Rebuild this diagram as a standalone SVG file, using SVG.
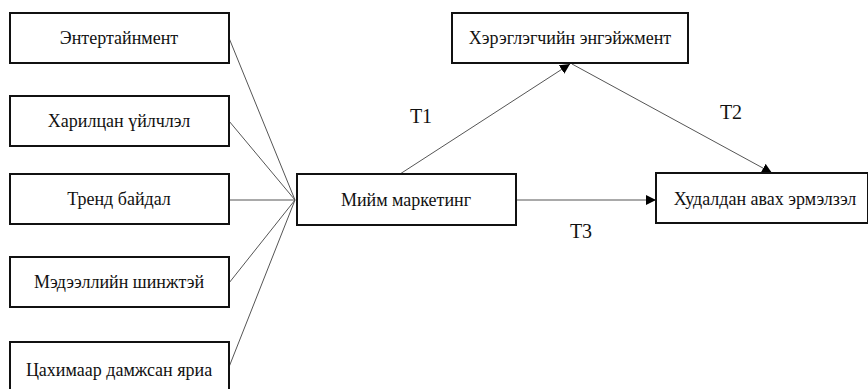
<svg xmlns="http://www.w3.org/2000/svg" width="868" height="389" viewBox="0 0 868 389">
<defs>
<style>
.box{fill:#fff;stroke:#111;stroke-width:2}
.t{font-size:18px;fill:#111;text-anchor:middle}
.lbl{font-size:20px;fill:#111;text-anchor:middle}
.ln{stroke:#555;stroke-width:1;fill:none}
</style>
<marker id="ah" viewBox="0 0 10 10" refX="10" refY="5" markerWidth="10" markerHeight="10" markerUnits="userSpaceOnUse" orient="auto">
<path d="M0,0 L10,5 L0,10 Z" fill="#000"/>
</marker>
</defs>
<rect width="868" height="389" fill="#fff"/>
<g font-family="'Liberation Serif', 'DejaVu Serif', serif">
<g id="connectors">
<line class="ln" x1="229" y1="38" x2="295" y2="200"/>
<line class="ln" x1="229" y1="121" x2="295" y2="200"/>
<line class="ln" x1="229" y1="200" x2="295" y2="200"/>
<line class="ln" x1="229" y1="283" x2="295" y2="200"/>
<line class="ln" x1="229" y1="367" x2="295" y2="200"/>
<line class="ln" x1="400" y1="174" x2="570" y2="64" marker-end="url(#ah)"/>
<line class="ln" x1="572" y1="64" x2="772" y2="173" marker-end="url(#ah)"/>
<line class="ln" x1="516" y1="200" x2="656" y2="200" marker-end="url(#ah)"/>
<text class="lbl" x="421" y="123">T1</text>
<text class="lbl" x="731" y="119">T2</text>
<text class="lbl" x="581" y="238">T3</text>
</g>
<g id="n1"><rect class="box" x="10" y="13" width="219" height="50"/><text class="t" x="119" y="44">Энтертайнмент</text></g>
<g id="n2"><rect class="box" x="10" y="96" width="219" height="50"/><text class="t" x="119" y="127">Харилцан үйлчлэл</text></g>
<g id="n3"><rect class="box" x="10" y="174" width="219" height="50"/><text class="t" x="119" y="205">Тренд байдал</text></g>
<g id="n4"><rect class="box" x="10" y="257" width="219" height="50"/><text class="t" x="119" y="288">Мэдээллийн шинжтэй</text></g>
<g id="n5"><rect class="box" x="10" y="342" width="219" height="50"/><text class="t" x="119" y="376">Цахимаар дамжсан яриа</text></g>
<g id="n6"><rect class="box" x="297" y="174" width="219" height="51"/><text class="t" x="406" y="206">Мийм маркетинг</text></g>
<g id="n7"><rect class="box" x="452" y="13" width="236" height="50"/><text class="t" x="570" y="44">Хэрэглэгчийн энгэйжмент</text></g>
<g id="n8"><rect class="box" x="656" y="173" width="212" height="50"/><text class="t" x="765" y="205">Худалдан авах эрмэлзэл</text></g>
</g>
</svg>
